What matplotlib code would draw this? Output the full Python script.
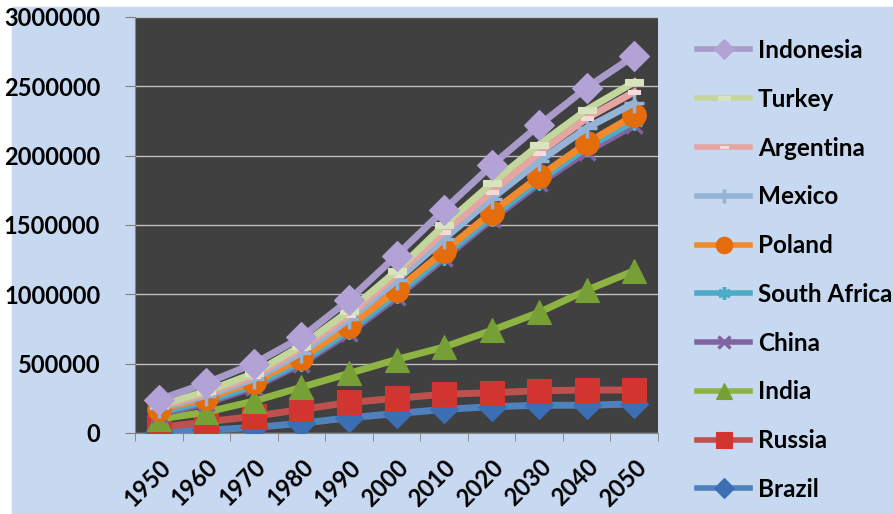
import matplotlib.pyplot as plt
from matplotlib.patches import Rectangle

years = ["1950", "1960", "1970", "1980", "1990", "2000", "2010", "2020", "2030", "2040", "2050"]

# values (plotted level of each line)
indonesia = [240000, 360000, 500000, 690000, 960000, 1280000, 1610000, 1930000, 2220000, 2490000, 2720000]
turkey = [200000, 300000, 430000, 630000, 880000, 1170000, 1500000, 1800000, 2080000, 2330000, 2530000]
argentina = [190000, 285000, 410000, 610000, 850000, 1140000, 1450000, 1740000, 2020000, 2270000, 2460000]
mexico = [180000, 270000, 390000, 580000, 820000, 1100000, 1400000, 1690000, 1960000, 2200000, 2380000]
poland = [170000, 250000, 370000, 540000, 770000, 1030000, 1310000, 1590000, 1850000, 2090000, 2290000]
south_africa = [150000, 230000, 345000, 515000, 740000, 1000000, 1280000, 1560000, 1820000, 2060000, 2250000]
china = [135000, 215000, 330000, 500000, 720000, 980000, 1260000, 1540000, 1800000, 2030000, 2220000]
india = [100000, 150000, 230000, 330000, 430000, 530000, 620000, 740000, 870000, 1030000, 1170000]
russia = [40000, 80000, 120000, 170000, 220000, 250000, 280000, 290000, 305000, 310000, 310000]
brazil = [10000, 20000, 40000, 70000, 110000, 140000, 170000, 190000, 200000, 200000, 210000]

names = ["Indonesia", "Turkey", "Argentina", "Mexico", "Poland",
         "South Africa", "China", "India", "Russia", "Brazil"]
series = [indonesia, turkey, argentina, mexico, poland,
          south_africa, china, india, russia, brazil]

line_colors = ["#A99BC9", "#C3D69B", "#E6A5A3", "#95B3D7", "#F08A2C",
               "#4BACC6", "#8064A2", "#8DB443", "#C0504D", "#4F81BD"]
marker_face = ["#B3A2D6", "#D7E4BD", "#F2DCDB", "#95B3D7", "#E46C0A",
               "#4BACC6", "#8064A2", "#76A035", "#D2342F", "#3C6EB4"]

wide_rect = [(-1, -0.35), (1, -0.35), (1, 0.35), (-1, 0.35), (-1, -0.35)]
markers = ["D", wide_rect, wide_rect, "+", "o", (6, 2, 0), "x", "^", "s", "D"]
msizes = [15, 13, 8, 14, 17, 13, 12, 17, 17, 14]
thin = ("+", "x", (6, 2, 0))

font = "Lato"

fig = plt.figure(figsize=(8.93, 5.14), dpi=100, facecolor="white")
fig.patches.append(Rectangle((12 / 893, 0), 1 - 12 / 893, 1 - 7 / 514,
                             transform=fig.transFigure, color="#C6D9F1", zorder=-5))

ax = fig.add_axes([135 / 893, 1 - 433 / 514, 523 / 893, 416 / 514])
ax.set_facecolor("#404040")

x = list(range(len(years)))
# draw bottom series first so upper lines sit on top
for i in reversed(range(len(names))):
    ax.plot(x, series[i], color=line_colors[i], lw=5, zorder=3 + (len(names) - i) * 0.1,
            marker=markers[i], ms=msizes[i], mfc=marker_face[i],
            mec=line_colors[i] if markers[i] in thin else marker_face[i],
            mew=2.5 if markers[i] in thin else 0.8,
            label=names[i])

ax.set_xlim(-0.5, len(years) - 0.5)
ax.set_ylim(0, 3000000)
ax.set_yticks([0, 500000, 1000000, 1500000, 2000000, 2500000, 3000000])
ax.set_yticklabels(["0", "500000", "1000000", "1500000", "2000000", "2500000", "3000000"],
                   fontsize=17, fontweight="bold", family=font)
ax.set_xticks(x)
ax.set_xticklabels(years, rotation=45, ha="right", rotation_mode="anchor",
                   fontsize=17, fontweight="bold", family=font)
ax.set_xticks([v + 0.5 for v in range(-1, len(years))], minor=True)
ax.tick_params(axis="x", which="major", length=0, pad=16)
ax.tick_params(axis="x", which="minor", length=6, color="#7F7F7F")
ax.tick_params(axis="y", length=7, color="#7F7F7F", pad=18)
ax.grid(axis="y", color="#BFBFBF", lw=1, zorder=1)
ax.set_axisbelow(True)
for side in ["top", "right"]:
    ax.spines[side].set_visible(False)
for side in ["left", "bottom"]:
    ax.spines[side].set_color("#868686")

handles, labels = ax.get_legend_handles_labels()
order = [labels.index(n) for n in names]
leg = fig.legend([handles[k] for k in order], [labels[k] for k in order],
                 loc="upper left", bbox_to_anchor=(697 / 893, 1 - 39 / 514),
                 frameon=False, prop={"family": font, "weight": "bold", "size": 17.5},
                 handlelength=2.2, labelspacing=1.06, handletextpad=0.3,
                 borderpad=0, borderaxespad=0, markerscale=0.7)
for h in leg.get_lines():
    h.set_linewidth(4)

fig.savefig("out.png", dpi=100, facecolor=fig.get_facecolor())
